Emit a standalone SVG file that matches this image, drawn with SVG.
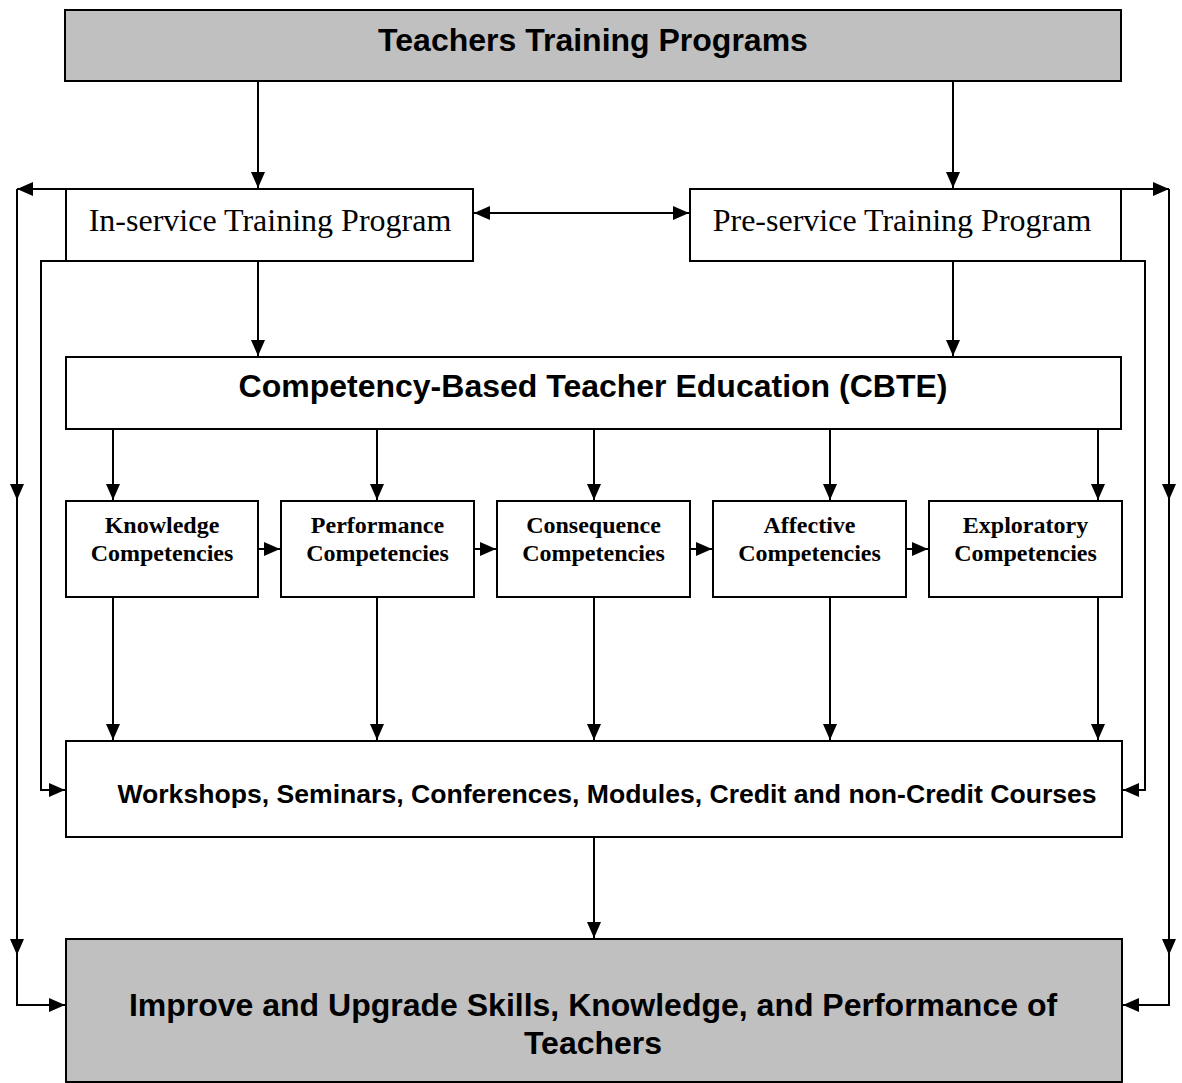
<svg xmlns="http://www.w3.org/2000/svg" width="1182" height="1083" viewBox="0 0 1182 1083">
<style>
.box{fill:#fff;stroke:#000;stroke-width:2}
.gray{fill:#c0c0c0;stroke:#000;stroke-width:2}
.sans{font-family:"Liberation Sans",Arial,sans-serif;font-weight:bold;fill:#000}
.serif{font-family:"Liberation Serif","Times New Roman",serif;fill:#000}
.bs{font-family:"Liberation Serif","Times New Roman",serif;font-weight:bold;font-size:24px;fill:#000}
#connectors path{fill:none;stroke:#000;stroke-width:2}
</style>
<defs>
<marker id="ah" markerUnits="userSpaceOnUse" markerWidth="17" markerHeight="14" refX="16" refY="7" orient="auto">
<path d="M0,0 L16,7 L0,14 z" fill="#000"/>
</marker>
</defs>
<rect width="1182" height="1083" fill="#fff"/>
<g id="connectors">
<path d="M258,81 V188" marker-end="url(#ah)"/>
<path d="M953,81 V188" marker-end="url(#ah)"/>
<path d="M66,189 H17" marker-end="url(#ah)"/>
<path d="M17,189 V500" marker-end="url(#ah)"/>
<path d="M17,500 V955" marker-end="url(#ah)"/>
<path d="M17,955 V1005 H65" marker-end="url(#ah)"/>
<path d="M1121,189 H1169" marker-end="url(#ah)"/>
<path d="M1169,189 V500" marker-end="url(#ah)"/>
<path d="M1169,500 V955" marker-end="url(#ah)"/>
<path d="M1169,955 V1005 H1123" marker-end="url(#ah)"/>
<path d="M66,261 H41 V790 H65" marker-end="url(#ah)"/>
<path d="M1121,261 H1145 V790 H1123" marker-end="url(#ah)"/>
<path d="M580,213 H474" marker-end="url(#ah)"/>
<path d="M580,213 H689" marker-end="url(#ah)"/>
<path d="M258,261 V356" marker-end="url(#ah)"/>
<path d="M953,261 V356" marker-end="url(#ah)"/>
<path d="M113,429 V500" marker-end="url(#ah)"/>
<path d="M377,429 V500" marker-end="url(#ah)"/>
<path d="M594,429 V500" marker-end="url(#ah)"/>
<path d="M830,429 V500" marker-end="url(#ah)"/>
<path d="M1098,429 V500" marker-end="url(#ah)"/>
<path d="M258,549 H280" marker-end="url(#ah)"/>
<path d="M474,549 H496" marker-end="url(#ah)"/>
<path d="M690,549 H712" marker-end="url(#ah)"/>
<path d="M906,549 H928" marker-end="url(#ah)"/>
<path d="M113,597 V740" marker-end="url(#ah)"/>
<path d="M377,597 V740" marker-end="url(#ah)"/>
<path d="M594,597 V740" marker-end="url(#ah)"/>
<path d="M830,597 V740" marker-end="url(#ah)"/>
<path d="M1098,597 V740" marker-end="url(#ah)"/>
<path d="M594,837 V938" marker-end="url(#ah)"/>
</g>
<g id="n-top">
<rect class="gray" x="65" y="10" width="1056" height="71"/>
<text class="sans" x="593" y="51" font-size="32" text-anchor="middle">Teachers Training Programs</text>
</g>
<g id="n-inservice">
<rect class="box" x="66" y="189" width="407" height="72"/>
<text class="serif" x="270" y="231" font-size="32" text-anchor="middle">In-service Training Program</text>
</g>
<g id="n-preservice">
<rect class="box" x="690" y="189" width="431" height="72"/>
<text class="serif" x="902" y="231" font-size="32" text-anchor="middle">Pre-service Training Program</text>
</g>
<g id="n-cbte">
<rect class="box" x="66" y="357" width="1055" height="72"/>
<text class="sans" x="593" y="397" font-size="32" text-anchor="middle">Competency-Based Teacher Education (CBTE)</text>
</g>
<g id="n-knowledge">
<rect class="box" x="66" y="501" width="192" height="96"/>
<text class="bs" x="162" y="533" text-anchor="middle">Knowledge</text>
<text class="bs" x="162" y="561" text-anchor="middle">Competencies</text>
</g>
<g id="n-performance">
<rect class="box" x="281" y="501" width="193" height="96"/>
<text class="bs" x="377.5" y="533" text-anchor="middle">Performance</text>
<text class="bs" x="377.5" y="561" text-anchor="middle">Competencies</text>
</g>
<g id="n-consequence">
<rect class="box" x="497" y="501" width="193" height="96"/>
<text class="bs" x="593.5" y="533" text-anchor="middle">Consequence</text>
<text class="bs" x="593.5" y="561" text-anchor="middle">Competencies</text>
</g>
<g id="n-affective">
<rect class="box" x="713" y="501" width="193" height="96"/>
<text class="bs" x="809.5" y="533" text-anchor="middle">Affective</text>
<text class="bs" x="809.5" y="561" text-anchor="middle">Competencies</text>
</g>
<g id="n-exploratory">
<rect class="box" x="929" y="501" width="193" height="96"/>
<text class="bs" x="1025.5" y="533" text-anchor="middle">Exploratory</text>
<text class="bs" x="1025.5" y="561" text-anchor="middle">Competencies</text>
</g>
<g id="n-workshops">
<rect class="box" x="66" y="741" width="1056" height="96"/>
<text class="sans" x="607" y="803" font-size="26.6" text-anchor="middle">Workshops, Seminars, Conferences, Modules, Credit and non-Credit Courses</text>
</g>
<g id="n-improve">
<rect class="gray" x="66" y="939" width="1056" height="143"/>
<text class="sans" x="593" y="1016" font-size="32" text-anchor="middle">Improve and Upgrade Skills, Knowledge, and Performance of</text>
<text class="sans" x="593" y="1054" font-size="32" text-anchor="middle">Teachers</text>
</g>
</svg>
